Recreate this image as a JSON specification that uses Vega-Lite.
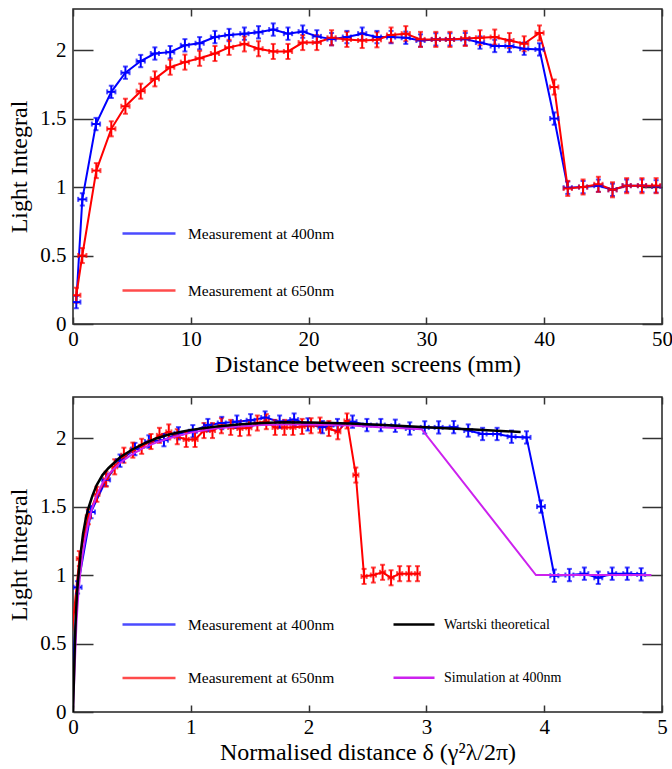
{
  "$schema": "https://vega.github.io/schema/vega-lite/v6.json",
  "background": "white",
  "padding": {"left": 7, "top": 7, "right": 8, "bottom": 2},
  "config": {
    "font": "Liberation Serif",
    "view": {"stroke": "#222", "strokeWidth": 1.5},
    "axis": {"grid": false, "domain": false, "tickColor": "#333", "tickWidth": 1.5, "labelColor": "#000", "titleColor": "#000", "labelFontSize": 21, "titleFontSize": 24, "titleFontWeight": "normal", "labelFont": "Liberation Serif", "titleFont": "Liberation Serif", "labelFlush": false, "labelOverlap": false},
    "legend": {"labelFont": "Liberation Serif", "labelColor": "#000"}
  },
  "datasets": {
    "top": [
      {"series": "Measurement at 400nm", "x": 0.28, "y": 0.16, "ex": 0.35, "ey": 0.045},
      {"series": "Measurement at 400nm", "x": 0.79, "y": 0.91, "ex": 0.35, "ey": 0.045},
      {"series": "Measurement at 400nm", "x": 1.95, "y": 1.46, "ex": 0.35, "ey": 0.045},
      {"series": "Measurement at 400nm", "x": 3.25, "y": 1.695, "ex": 0.35, "ey": 0.045},
      {"series": "Measurement at 400nm", "x": 4.45, "y": 1.835, "ex": 0.35, "ey": 0.045},
      {"series": "Measurement at 400nm", "x": 5.75, "y": 1.92, "ex": 0.35, "ey": 0.045},
      {"series": "Measurement at 400nm", "x": 6.95, "y": 1.975, "ex": 0.35, "ey": 0.045},
      {"series": "Measurement at 400nm", "x": 8.25, "y": 1.985, "ex": 0.35, "ey": 0.045},
      {"series": "Measurement at 400nm", "x": 9.5, "y": 2.035, "ex": 0.35, "ey": 0.045},
      {"series": "Measurement at 400nm", "x": 10.75, "y": 2.05, "ex": 0.35, "ey": 0.045},
      {"series": "Measurement at 400nm", "x": 12.05, "y": 2.095, "ex": 0.35, "ey": 0.045},
      {"series": "Measurement at 400nm", "x": 13.25, "y": 2.11, "ex": 0.35, "ey": 0.045},
      {"series": "Measurement at 400nm", "x": 14.55, "y": 2.12, "ex": 0.35, "ey": 0.045},
      {"series": "Measurement at 400nm", "x": 15.75, "y": 2.13, "ex": 0.35, "ey": 0.045},
      {"series": "Measurement at 400nm", "x": 17.0, "y": 2.15, "ex": 0.35, "ey": 0.045},
      {"series": "Measurement at 400nm", "x": 18.25, "y": 2.12, "ex": 0.35, "ey": 0.045},
      {"series": "Measurement at 400nm", "x": 19.5, "y": 2.135, "ex": 0.35, "ey": 0.045},
      {"series": "Measurement at 400nm", "x": 20.7, "y": 2.1, "ex": 0.35, "ey": 0.045},
      {"series": "Measurement at 400nm", "x": 21.95, "y": 2.08, "ex": 0.35, "ey": 0.045},
      {"series": "Measurement at 400nm", "x": 23.25, "y": 2.095, "ex": 0.35, "ey": 0.045},
      {"series": "Measurement at 400nm", "x": 24.55, "y": 2.12, "ex": 0.35, "ey": 0.045},
      {"series": "Measurement at 400nm", "x": 25.8, "y": 2.095, "ex": 0.35, "ey": 0.045},
      {"series": "Measurement at 400nm", "x": 27.0, "y": 2.095, "ex": 0.35, "ey": 0.045},
      {"series": "Measurement at 400nm", "x": 28.25, "y": 2.09, "ex": 0.35, "ey": 0.045},
      {"series": "Measurement at 400nm", "x": 29.5, "y": 2.07, "ex": 0.35, "ey": 0.045},
      {"series": "Measurement at 400nm", "x": 30.8, "y": 2.078, "ex": 0.35, "ey": 0.045},
      {"series": "Measurement at 400nm", "x": 32.0, "y": 2.078, "ex": 0.35, "ey": 0.045},
      {"series": "Measurement at 400nm", "x": 33.3, "y": 2.08, "ex": 0.35, "ey": 0.045},
      {"series": "Measurement at 400nm", "x": 34.55, "y": 2.055, "ex": 0.35, "ey": 0.045},
      {"series": "Measurement at 400nm", "x": 35.8, "y": 2.03, "ex": 0.35, "ey": 0.045},
      {"series": "Measurement at 400nm", "x": 37.05, "y": 2.03, "ex": 0.35, "ey": 0.045},
      {"series": "Measurement at 400nm", "x": 38.3, "y": 2.01, "ex": 0.35, "ey": 0.045},
      {"series": "Measurement at 400nm", "x": 39.6, "y": 2.005, "ex": 0.35, "ey": 0.045},
      {"series": "Measurement at 400nm", "x": 40.85, "y": 1.5, "ex": 0.35, "ey": 0.045},
      {"series": "Measurement at 400nm", "x": 42.0, "y": 0.995, "ex": 0.35, "ey": 0.045},
      {"series": "Measurement at 400nm", "x": 43.3, "y": 1.0, "ex": 0.35, "ey": 0.045},
      {"series": "Measurement at 400nm", "x": 44.6, "y": 1.01, "ex": 0.35, "ey": 0.045},
      {"series": "Measurement at 400nm", "x": 45.8, "y": 0.98, "ex": 0.35, "ey": 0.045},
      {"series": "Measurement at 400nm", "x": 47.0, "y": 1.01, "ex": 0.35, "ey": 0.045},
      {"series": "Measurement at 400nm", "x": 48.3, "y": 1.01, "ex": 0.35, "ey": 0.045},
      {"series": "Measurement at 400nm", "x": 49.5, "y": 1.005, "ex": 0.35, "ey": 0.045},
      {"series": "Measurement at 650nm", "x": 0.28, "y": 0.21, "ex": 0.35, "ey": 0.055},
      {"series": "Measurement at 650nm", "x": 0.79, "y": 0.5, "ex": 0.35, "ey": 0.055},
      {"series": "Measurement at 650nm", "x": 1.98, "y": 1.12, "ex": 0.35, "ey": 0.055},
      {"series": "Measurement at 650nm", "x": 3.25, "y": 1.425, "ex": 0.35, "ey": 0.055},
      {"series": "Measurement at 650nm", "x": 4.45, "y": 1.59, "ex": 0.35, "ey": 0.055},
      {"series": "Measurement at 650nm", "x": 5.75, "y": 1.7, "ex": 0.35, "ey": 0.055},
      {"series": "Measurement at 650nm", "x": 6.95, "y": 1.79, "ex": 0.35, "ey": 0.055},
      {"series": "Measurement at 650nm", "x": 8.25, "y": 1.875, "ex": 0.35, "ey": 0.055},
      {"series": "Measurement at 650nm", "x": 9.5, "y": 1.912, "ex": 0.35, "ey": 0.055},
      {"series": "Measurement at 650nm", "x": 10.75, "y": 1.94, "ex": 0.35, "ey": 0.055},
      {"series": "Measurement at 650nm", "x": 12.05, "y": 1.975, "ex": 0.35, "ey": 0.055},
      {"series": "Measurement at 650nm", "x": 13.25, "y": 2.02, "ex": 0.35, "ey": 0.055},
      {"series": "Measurement at 650nm", "x": 14.55, "y": 2.045, "ex": 0.35, "ey": 0.055},
      {"series": "Measurement at 650nm", "x": 15.75, "y": 2.01, "ex": 0.35, "ey": 0.055},
      {"series": "Measurement at 650nm", "x": 17.0, "y": 1.99, "ex": 0.35, "ey": 0.055},
      {"series": "Measurement at 650nm", "x": 18.25, "y": 1.99, "ex": 0.35, "ey": 0.055},
      {"series": "Measurement at 650nm", "x": 19.5, "y": 2.055, "ex": 0.35, "ey": 0.055},
      {"series": "Measurement at 650nm", "x": 20.7, "y": 2.055, "ex": 0.35, "ey": 0.055},
      {"series": "Measurement at 650nm", "x": 21.95, "y": 2.09, "ex": 0.35, "ey": 0.055},
      {"series": "Measurement at 650nm", "x": 23.25, "y": 2.078, "ex": 0.35, "ey": 0.055},
      {"series": "Measurement at 650nm", "x": 24.55, "y": 2.07, "ex": 0.35, "ey": 0.055},
      {"series": "Measurement at 650nm", "x": 25.8, "y": 2.075, "ex": 0.35, "ey": 0.055},
      {"series": "Measurement at 650nm", "x": 27.0, "y": 2.11, "ex": 0.35, "ey": 0.055},
      {"series": "Measurement at 650nm", "x": 28.25, "y": 2.12, "ex": 0.35, "ey": 0.055},
      {"series": "Measurement at 650nm", "x": 29.5, "y": 2.078, "ex": 0.35, "ey": 0.055},
      {"series": "Measurement at 650nm", "x": 30.8, "y": 2.078, "ex": 0.35, "ey": 0.055},
      {"series": "Measurement at 650nm", "x": 32.0, "y": 2.078, "ex": 0.35, "ey": 0.055},
      {"series": "Measurement at 650nm", "x": 33.3, "y": 2.085, "ex": 0.35, "ey": 0.055},
      {"series": "Measurement at 650nm", "x": 34.55, "y": 2.09, "ex": 0.35, "ey": 0.055},
      {"series": "Measurement at 650nm", "x": 35.8, "y": 2.095, "ex": 0.35, "ey": 0.055},
      {"series": "Measurement at 650nm", "x": 37.05, "y": 2.07, "ex": 0.35, "ey": 0.055},
      {"series": "Measurement at 650nm", "x": 38.3, "y": 2.046, "ex": 0.35, "ey": 0.055},
      {"series": "Measurement at 650nm", "x": 39.6, "y": 2.125, "ex": 0.35, "ey": 0.055},
      {"series": "Measurement at 650nm", "x": 40.85, "y": 1.73, "ex": 0.35, "ey": 0.055},
      {"series": "Measurement at 650nm", "x": 42.0, "y": 0.99, "ex": 0.35, "ey": 0.055},
      {"series": "Measurement at 650nm", "x": 43.3, "y": 1.0, "ex": 0.35, "ey": 0.055},
      {"series": "Measurement at 650nm", "x": 44.6, "y": 1.02, "ex": 0.35, "ey": 0.055},
      {"series": "Measurement at 650nm", "x": 45.8, "y": 0.98, "ex": 0.35, "ey": 0.055},
      {"series": "Measurement at 650nm", "x": 47.0, "y": 1.01, "ex": 0.35, "ey": 0.055},
      {"series": "Measurement at 650nm", "x": 48.3, "y": 1.01, "ex": 0.35, "ey": 0.055},
      {"series": "Measurement at 650nm", "x": 49.5, "y": 1.01, "ex": 0.35, "ey": 0.055}
    ],
    "bottom": [
      {"series": "Measurement at 400nm", "x": -0.011, "y": 0.16, "ex": 0.034, "ey": 0.045},
      {"series": "Measurement at 400nm", "x": 0.039, "y": 0.91, "ex": 0.034, "ey": 0.045},
      {"series": "Measurement at 400nm", "x": 0.153, "y": 1.46, "ex": 0.034, "ey": 0.045},
      {"series": "Measurement at 400nm", "x": 0.281, "y": 1.695, "ex": 0.034, "ey": 0.045},
      {"series": "Measurement at 400nm", "x": 0.399, "y": 1.835, "ex": 0.034, "ey": 0.045},
      {"series": "Measurement at 400nm", "x": 0.526, "y": 1.92, "ex": 0.034, "ey": 0.045},
      {"series": "Measurement at 400nm", "x": 0.644, "y": 1.975, "ex": 0.034, "ey": 0.045},
      {"series": "Measurement at 400nm", "x": 0.772, "y": 1.985, "ex": 0.034, "ey": 0.045},
      {"series": "Measurement at 400nm", "x": 0.895, "y": 2.035, "ex": 0.034, "ey": 0.045},
      {"series": "Measurement at 400nm", "x": 1.017, "y": 2.05, "ex": 0.034, "ey": 0.045},
      {"series": "Measurement at 400nm", "x": 1.145, "y": 2.095, "ex": 0.034, "ey": 0.045},
      {"series": "Measurement at 400nm", "x": 1.263, "y": 2.11, "ex": 0.034, "ey": 0.045},
      {"series": "Measurement at 400nm", "x": 1.391, "y": 2.12, "ex": 0.034, "ey": 0.045},
      {"series": "Measurement at 400nm", "x": 1.508, "y": 2.13, "ex": 0.034, "ey": 0.045},
      {"series": "Measurement at 400nm", "x": 1.631, "y": 2.15, "ex": 0.034, "ey": 0.045},
      {"series": "Measurement at 400nm", "x": 1.754, "y": 2.12, "ex": 0.034, "ey": 0.045},
      {"series": "Measurement at 400nm", "x": 1.877, "y": 2.135, "ex": 0.034, "ey": 0.045},
      {"series": "Measurement at 400nm", "x": 1.994, "y": 2.1, "ex": 0.034, "ey": 0.045},
      {"series": "Measurement at 400nm", "x": 2.117, "y": 2.08, "ex": 0.034, "ey": 0.045},
      {"series": "Measurement at 400nm", "x": 2.245, "y": 2.095, "ex": 0.034, "ey": 0.045},
      {"series": "Measurement at 400nm", "x": 2.373, "y": 2.12, "ex": 0.034, "ey": 0.045},
      {"series": "Measurement at 400nm", "x": 2.495, "y": 2.095, "ex": 0.034, "ey": 0.045},
      {"series": "Measurement at 400nm", "x": 2.613, "y": 2.095, "ex": 0.034, "ey": 0.045},
      {"series": "Measurement at 400nm", "x": 2.736, "y": 2.09, "ex": 0.034, "ey": 0.045},
      {"series": "Measurement at 400nm", "x": 2.859, "y": 2.07, "ex": 0.034, "ey": 0.045},
      {"series": "Measurement at 400nm", "x": 2.986, "y": 2.078, "ex": 0.034, "ey": 0.045},
      {"series": "Measurement at 400nm", "x": 3.104, "y": 2.078, "ex": 0.034, "ey": 0.045},
      {"series": "Measurement at 400nm", "x": 3.232, "y": 2.08, "ex": 0.034, "ey": 0.045},
      {"series": "Measurement at 400nm", "x": 3.355, "y": 2.055, "ex": 0.034, "ey": 0.045},
      {"series": "Measurement at 400nm", "x": 3.477, "y": 2.03, "ex": 0.034, "ey": 0.045},
      {"series": "Measurement at 400nm", "x": 3.6, "y": 2.03, "ex": 0.034, "ey": 0.045},
      {"series": "Measurement at 400nm", "x": 3.723, "y": 2.01, "ex": 0.034, "ey": 0.045},
      {"series": "Measurement at 400nm", "x": 3.85, "y": 2.005, "ex": 0.034, "ey": 0.045},
      {"series": "Measurement at 400nm", "x": 3.973, "y": 1.5, "ex": 0.034, "ey": 0.045},
      {"series": "Measurement at 400nm", "x": 4.086, "y": 0.995, "ex": 0.034, "ey": 0.045},
      {"series": "Measurement at 400nm", "x": 4.214, "y": 1.0, "ex": 0.034, "ey": 0.045},
      {"series": "Measurement at 400nm", "x": 4.341, "y": 1.01, "ex": 0.034, "ey": 0.045},
      {"series": "Measurement at 400nm", "x": 4.459, "y": 0.98, "ex": 0.034, "ey": 0.045},
      {"series": "Measurement at 400nm", "x": 4.577, "y": 1.01, "ex": 0.034, "ey": 0.045},
      {"series": "Measurement at 400nm", "x": 4.705, "y": 1.01, "ex": 0.034, "ey": 0.045},
      {"series": "Measurement at 400nm", "x": 4.823, "y": 1.005, "ex": 0.034, "ey": 0.045},
      {"series": "Measurement at 650nm", "x": -0.049, "y": 0.21, "ex": 0.022, "ey": 0.055},
      {"series": "Measurement at 650nm", "x": -0.018, "y": 0.5, "ex": 0.022, "ey": 0.055},
      {"series": "Measurement at 650nm", "x": 0.054, "y": 1.12, "ex": 0.022, "ey": 0.055},
      {"series": "Measurement at 650nm", "x": 0.13, "y": 1.425, "ex": 0.022, "ey": 0.055},
      {"series": "Measurement at 650nm", "x": 0.203, "y": 1.59, "ex": 0.022, "ey": 0.055},
      {"series": "Measurement at 650nm", "x": 0.281, "y": 1.7, "ex": 0.022, "ey": 0.055},
      {"series": "Measurement at 650nm", "x": 0.354, "y": 1.79, "ex": 0.022, "ey": 0.055},
      {"series": "Measurement at 650nm", "x": 0.432, "y": 1.875, "ex": 0.022, "ey": 0.055},
      {"series": "Measurement at 650nm", "x": 0.508, "y": 1.912, "ex": 0.022, "ey": 0.055},
      {"series": "Measurement at 650nm", "x": 0.583, "y": 1.94, "ex": 0.022, "ey": 0.055},
      {"series": "Measurement at 650nm", "x": 0.662, "y": 1.975, "ex": 0.022, "ey": 0.055},
      {"series": "Measurement at 650nm", "x": 0.734, "y": 2.02, "ex": 0.022, "ey": 0.055},
      {"series": "Measurement at 650nm", "x": 0.813, "y": 2.045, "ex": 0.022, "ey": 0.055},
      {"series": "Measurement at 650nm", "x": 0.885, "y": 2.01, "ex": 0.022, "ey": 0.055},
      {"series": "Measurement at 650nm", "x": 0.961, "y": 1.99, "ex": 0.022, "ey": 0.055},
      {"series": "Measurement at 650nm", "x": 1.036, "y": 1.99, "ex": 0.022, "ey": 0.055},
      {"series": "Measurement at 650nm", "x": 1.112, "y": 2.055, "ex": 0.022, "ey": 0.055},
      {"series": "Measurement at 650nm", "x": 1.184, "y": 2.055, "ex": 0.022, "ey": 0.055},
      {"series": "Measurement at 650nm", "x": 1.26, "y": 2.09, "ex": 0.022, "ey": 0.055},
      {"series": "Measurement at 650nm", "x": 1.339, "y": 2.078, "ex": 0.022, "ey": 0.055},
      {"series": "Measurement at 650nm", "x": 1.417, "y": 2.07, "ex": 0.022, "ey": 0.055},
      {"series": "Measurement at 650nm", "x": 1.493, "y": 2.075, "ex": 0.022, "ey": 0.055},
      {"series": "Measurement at 650nm", "x": 1.565, "y": 2.11, "ex": 0.022, "ey": 0.055},
      {"series": "Measurement at 650nm", "x": 1.641, "y": 2.12, "ex": 0.022, "ey": 0.055},
      {"series": "Measurement at 650nm", "x": 1.716, "y": 2.078, "ex": 0.022, "ey": 0.055},
      {"series": "Measurement at 650nm", "x": 1.795, "y": 2.078, "ex": 0.022, "ey": 0.055},
      {"series": "Measurement at 650nm", "x": 1.867, "y": 2.078, "ex": 0.022, "ey": 0.055},
      {"series": "Measurement at 650nm", "x": 1.945, "y": 2.085, "ex": 0.022, "ey": 0.055},
      {"series": "Measurement at 650nm", "x": 2.021, "y": 2.09, "ex": 0.022, "ey": 0.055},
      {"series": "Measurement at 650nm", "x": 2.097, "y": 2.095, "ex": 0.022, "ey": 0.055},
      {"series": "Measurement at 650nm", "x": 2.172, "y": 2.07, "ex": 0.022, "ey": 0.055},
      {"series": "Measurement at 650nm", "x": 2.248, "y": 2.046, "ex": 0.022, "ey": 0.055},
      {"series": "Measurement at 650nm", "x": 2.326, "y": 2.125, "ex": 0.022, "ey": 0.055},
      {"series": "Measurement at 650nm", "x": 2.401, "y": 1.73, "ex": 0.022, "ey": 0.055},
      {"series": "Measurement at 650nm", "x": 2.471, "y": 0.99, "ex": 0.022, "ey": 0.055},
      {"series": "Measurement at 650nm", "x": 2.55, "y": 1.0, "ex": 0.022, "ey": 0.055},
      {"series": "Measurement at 650nm", "x": 2.628, "y": 1.02, "ex": 0.022, "ey": 0.055},
      {"series": "Measurement at 650nm", "x": 2.7, "y": 0.98, "ex": 0.022, "ey": 0.055},
      {"series": "Measurement at 650nm", "x": 2.773, "y": 1.01, "ex": 0.022, "ey": 0.055},
      {"series": "Measurement at 650nm", "x": 2.851, "y": 1.01, "ex": 0.022, "ey": 0.055},
      {"series": "Measurement at 650nm", "x": 2.924, "y": 1.01, "ex": 0.022, "ey": 0.055}
    ],
    "theory": [
      {"model": "Simulation at 400nm", "x": 0, "y": 0},
      {"model": "Simulation at 400nm", "x": 0.01, "y": 0.22},
      {"model": "Simulation at 400nm", "x": 0.02, "y": 0.45},
      {"model": "Simulation at 400nm", "x": 0.03, "y": 0.66},
      {"model": "Simulation at 400nm", "x": 0.045, "y": 0.86},
      {"model": "Simulation at 400nm", "x": 0.06, "y": 1.0},
      {"model": "Simulation at 400nm", "x": 0.08, "y": 1.14},
      {"model": "Simulation at 400nm", "x": 0.1, "y": 1.25},
      {"model": "Simulation at 400nm", "x": 0.13, "y": 1.38},
      {"model": "Simulation at 400nm", "x": 0.16, "y": 1.48},
      {"model": "Simulation at 400nm", "x": 0.2, "y": 1.58},
      {"model": "Simulation at 400nm", "x": 0.25, "y": 1.67},
      {"model": "Simulation at 400nm", "x": 0.3, "y": 1.735},
      {"model": "Simulation at 400nm", "x": 0.4, "y": 1.82},
      {"model": "Simulation at 400nm", "x": 0.5, "y": 1.88},
      {"model": "Simulation at 400nm", "x": 0.6, "y": 1.93},
      {"model": "Simulation at 400nm", "x": 0.7, "y": 1.965},
      {"model": "Simulation at 400nm", "x": 0.8, "y": 1.995},
      {"model": "Simulation at 400nm", "x": 1.0, "y": 2.04},
      {"model": "Simulation at 400nm", "x": 1.2, "y": 2.07},
      {"model": "Simulation at 400nm", "x": 1.4, "y": 2.085},
      {"model": "Simulation at 400nm", "x": 1.6, "y": 2.095},
      {"model": "Simulation at 400nm", "x": 1.8, "y": 2.1},
      {"model": "Simulation at 400nm", "x": 2.0, "y": 2.1},
      {"model": "Simulation at 400nm", "x": 2.2, "y": 2.095},
      {"model": "Simulation at 400nm", "x": 2.4, "y": 2.09},
      {"model": "Simulation at 400nm", "x": 2.6, "y": 2.08},
      {"model": "Simulation at 400nm", "x": 2.8, "y": 2.072},
      {"model": "Simulation at 400nm", "x": 2.96, "y": 2.065},
      {"model": "Simulation at 400nm", "x": 3.93, "y": 1.0},
      {"model": "Simulation at 400nm", "x": 4.91, "y": 1.0},
      {"model": "Wartski theoretical", "x": 0, "y": 0},
      {"model": "Wartski theoretical", "x": 0.008, "y": 0.25},
      {"model": "Wartski theoretical", "x": 0.016, "y": 0.5},
      {"model": "Wartski theoretical", "x": 0.025, "y": 0.72},
      {"model": "Wartski theoretical", "x": 0.035, "y": 0.88},
      {"model": "Wartski theoretical", "x": 0.048, "y": 1.01},
      {"model": "Wartski theoretical", "x": 0.065, "y": 1.16},
      {"model": "Wartski theoretical", "x": 0.085, "y": 1.3},
      {"model": "Wartski theoretical", "x": 0.11, "y": 1.42},
      {"model": "Wartski theoretical", "x": 0.135, "y": 1.5},
      {"model": "Wartski theoretical", "x": 0.165, "y": 1.58},
      {"model": "Wartski theoretical", "x": 0.2, "y": 1.655},
      {"model": "Wartski theoretical", "x": 0.25, "y": 1.73},
      {"model": "Wartski theoretical", "x": 0.3, "y": 1.78},
      {"model": "Wartski theoretical", "x": 0.4, "y": 1.86},
      {"model": "Wartski theoretical", "x": 0.5, "y": 1.915},
      {"model": "Wartski theoretical", "x": 0.6, "y": 1.96},
      {"model": "Wartski theoretical", "x": 0.7, "y": 1.995},
      {"model": "Wartski theoretical", "x": 0.8, "y": 2.022},
      {"model": "Wartski theoretical", "x": 0.9, "y": 2.043},
      {"model": "Wartski theoretical", "x": 1.0, "y": 2.06},
      {"model": "Wartski theoretical", "x": 1.2, "y": 2.083},
      {"model": "Wartski theoretical", "x": 1.4, "y": 2.1},
      {"model": "Wartski theoretical", "x": 1.6, "y": 2.11},
      {"model": "Wartski theoretical", "x": 1.8, "y": 2.115},
      {"model": "Wartski theoretical", "x": 2.0, "y": 2.114},
      {"model": "Wartski theoretical", "x": 2.2, "y": 2.11},
      {"model": "Wartski theoretical", "x": 2.4, "y": 2.104},
      {"model": "Wartski theoretical", "x": 2.6, "y": 2.097},
      {"model": "Wartski theoretical", "x": 2.8, "y": 2.088},
      {"model": "Wartski theoretical", "x": 3.0, "y": 2.079},
      {"model": "Wartski theoretical", "x": 3.2, "y": 2.07},
      {"model": "Wartski theoretical", "x": 3.4, "y": 2.062},
      {"model": "Wartski theoretical", "x": 3.6, "y": 2.053},
      {"model": "Wartski theoretical", "x": 3.8, "y": 2.045}
    ]
  },
  "vconcat": [
    {
      "width": 589,
      "height": 315,
      "data": {"name": "top"},
      "resolve": {"axis": {"x": "independent", "y": "independent"}},
      "layer": [
        {
          "mark": {"type": "line", "strokeWidth": 2, "clip": true},
          "encoding": {
            "x": {"field": "x", "type": "quantitative", "scale": {"domain": [0, 50], "nice": false, "zero": false}, "axis": {"orient": "top", "values": [0, 10, 20, 30, 40, 50], "tickSize": -7, "labels": false, "title": null}},
            "y": {"field": "y", "type": "quantitative", "scale": {"domain": [0, 2.3], "nice": false}, "axis": {"orient": "right", "values": [0, 0.5, 1, 1.5, 2], "tickSize": -20, "labels": false, "title": null}},
            "color": {"field": "series", "type": "nominal", "scale": {"domain": ["Measurement at 400nm", "Measurement at 650nm"], "range": ["#0000ff", "#ff0000"]}, "legend": {"orient": "none", "legendX": 48, "legendY": 196.5, "title": null, "symbolType": "stroke", "symbolSize": 2809, "symbolStrokeWidth": 2.5, "labelFontSize": 15.5, "labelOffset": 11, "rowPadding": 20, "padding": 0, "labelLimit": 400}}
          }
        },
        {
          "mark": {"type": "errorbar", "ticks": {"size": 5}, "thickness": 2, "clip": true},
          "encoding": {
            "x": {"field": "x", "type": "quantitative", "axis": {"orient": "bottom", "values": [0, 10, 20, 30, 40, 50], "tickSize": -7, "labelPadding": 11, "title": "Distance between screens (mm)", "titlePadding": 3}},
            "y": {"field": "y", "type": "quantitative", "axis": {"orient": "left", "values": [0, 0.5, 1, 1.5, 2], "format": "~g", "tickSize": -20, "labelPadding": 27, "title": "Light Integral", "titlePadding": 8}},
            "yError": {"field": "ey"},
            "color": {"field": "series", "type": "nominal"}
          }
        },
        {
          "mark": {"type": "errorbar", "ticks": {"size": 5}, "thickness": 2, "clip": true},
          "encoding": {
            "x": {"field": "x", "type": "quantitative", "axis": null},
            "xError": {"field": "ex"},
            "y": {"field": "y", "type": "quantitative", "axis": null},
            "color": {"field": "series", "type": "nominal"}
          }
        }
      ]
    },
    {
      "width": 589,
      "height": 315,
      "resolve": {"axis": {"x": "independent", "y": "independent"}},
      "layer": [
        {
          "data": {"name": "bottom"},
          "mark": {"type": "line", "strokeWidth": 2, "clip": true},
          "encoding": {
            "x": {"field": "x", "type": "quantitative", "scale": {"domain": [0, 5], "nice": false, "zero": false}, "axis": {"orient": "top", "values": [0, 1, 2, 3, 4, 5], "tickSize": -7, "labels": false, "title": null}},
            "y": {"field": "y", "type": "quantitative", "scale": {"domain": [0, 2.3], "nice": false}, "axis": {"orient": "right", "values": [0, 0.5, 1, 1.5, 2], "tickSize": -20, "labels": false, "title": null}},
            "color": {"field": "series", "type": "nominal", "scale": {"domain": ["Measurement at 400nm", "Measurement at 650nm"], "range": ["#0000ff", "#ff0000"]}, "legend": {"orient": "none", "legendX": 48, "legendY": 199.5, "title": null, "symbolType": "stroke", "symbolSize": 2809, "symbolStrokeWidth": 2.5, "labelFontSize": 15.5, "labelOffset": 11, "rowPadding": 16.6, "padding": 0, "labelLimit": 400}}
          }
        },
        {
          "data": {"name": "bottom"},
          "transform": [{"filter": "datum.x >= 0"}],
          "mark": {"type": "errorbar", "ticks": {"size": 5}, "thickness": 2, "clip": true},
          "encoding": {
            "x": {"field": "x", "type": "quantitative", "axis": {"orient": "bottom", "values": [0, 1, 2, 3, 4, 5], "tickSize": -7, "labelPadding": 11, "title": "Normalised distance δ (γ²λ/2π)", "titlePadding": 3}},
            "y": {"field": "y", "type": "quantitative", "axis": {"orient": "left", "values": [0, 0.5, 1, 1.5, 2], "format": "~g", "tickSize": -20, "labelPadding": 27, "title": "Light Integral", "titlePadding": 8}},
            "yError": {"field": "ey"},
            "color": {"field": "series", "type": "nominal"}
          }
        },
        {
          "data": {"name": "bottom"},
          "transform": [{"filter": "datum.x >= 0"}],
          "mark": {"type": "errorbar", "ticks": {"size": 5}, "thickness": 2, "clip": true},
          "encoding": {
            "x": {"field": "x", "type": "quantitative", "axis": null},
            "xError": {"field": "ex"},
            "y": {"field": "y", "type": "quantitative", "axis": null},
            "color": {"field": "series", "type": "nominal"}
          }
        },
        {
          "data": {"name": "theory"},
          "transform": [{"filter": "datum.model === 'Simulation at 400nm'"}],
          "mark": {"type": "line", "strokeWidth": 2, "clip": true},
          "encoding": {
            "x": {"field": "x", "type": "quantitative", "axis": null},
            "y": {"field": "y", "type": "quantitative", "axis": null},
            "stroke": {"field": "model", "type": "nominal", "scale": {"domain": ["Wartski theoretical", "Simulation at 400nm"], "range": ["#000000", "#cc22ee"]}, "legend": {"orient": "none", "legendX": 319, "legendY": 205.5, "title": null, "symbolType": "stroke", "symbolSize": 1681, "symbolStrokeWidth": 2.5, "labelFontSize": 14, "labelOffset": 8, "rowPadding": 24.2, "padding": 0, "labelLimit": 400}}
          }
        },
        {
          "data": {"name": "theory"},
          "transform": [{"filter": "datum.model === 'Wartski theoretical'"}],
          "mark": {"type": "line", "strokeWidth": 2.5, "clip": true},
          "encoding": {
            "x": {"field": "x", "type": "quantitative", "axis": null},
            "y": {"field": "y", "type": "quantitative", "axis": null},
            "stroke": {"field": "model", "type": "nominal"}
          }
        }
      ]
    }
  ],
  "spacing": 18,
  "resolve": {"scale": {"color": "independent", "stroke": "independent"}, "legend": {"color": "independent", "stroke": "independent"}}
}
